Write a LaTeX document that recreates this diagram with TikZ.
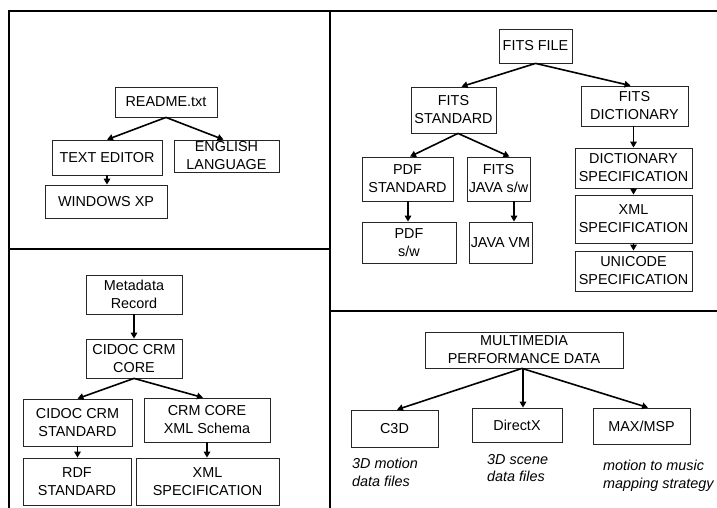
\documentclass[tikz,border=0pt]{standalone}
\usepackage{fontspec}
\setmainfont{Liberation Sans}
\usetikzlibrary{arrows.meta}
\begin{document}
\begin{tikzpicture}[x=1bp,y=-1bp,
  box/.style={draw=black!85, line width=0.8bp, inner sep=0pt, align=center,
    font=\fontsize{14.4bp}{18bp}\selectfont},
  arr/.style={line width=1.6bp, -{Triangle[length=6bp,width=6.5bp]}},
  panel/.style={line width=2.6bp},
  captext/.style={inner sep=0pt, align=left, anchor=north west,
    font=\fontsize{14.4bp}{17.5bp}\selectfont\itshape}]
\useasboundingbox (0,0) rectangle (717,508);
% panels
\draw[panel] (9,508) -- (9,11) -- (717,11);
\draw[panel] (330,11) -- (330,508);
\draw[panel] (9,249) -- (330,249);
\draw[panel] (330,311) -- (717,311);

% top-left
\node[box, minimum width=102bp, minimum height=30bp] (readme) at (166,102) {README.txt};
\node[box, minimum width=110bp, minimum height=35bp] (te) at (107,157.5) {TEXT EDITOR};
\node[box, minimum width=105bp, minimum height=32bp] (eng) at (226.5,156) {ENGLISH\\LANGUAGE};
\node[box, minimum width=122bp, minimum height=33bp] (winxp) at (106,201.5) {WINDOWS XP};
\draw[arr] (readme.south) -- (te.north);
\draw[arr] (readme.south) -- ([xshift=-3bp]eng.north);
\draw[arr] (te.south) -- (te.south |- winxp.north);

% top-right
\node[box, minimum width=73bp, minimum height=34bp] (fitsfile) at (535.5,46) {FITS FILE};
\node[box, minimum width=85bp, minimum height=46bp] (fitsstd) at (453.5,110) {FITS\\STANDARD};
\node[box, minimum width=107bp, minimum height=40bp] (fitsdict) at (634.5,106) {FITS\\DICTIONARY};
\node[box, minimum width=91bp, minimum height=44bp] (pdfstd) at (407.5,179) {PDF\\STANDARD};
\node[box, minimum width=63bp, minimum height=44bp] (fitsjava) at (498.5,179) {FITS\\JAVA s/w};
\node[box, minimum width=94bp, minimum height=41bp] (pdfsw) at (409,242.5) {PDF\\s/w};
\node[box, minimum width=63bp, minimum height=41bp] (javavm) at (500.5,242.5) {JAVA VM};
\node[box, minimum width=117bp, minimum height=40bp] (dictspec) at (633.5,168) {DICTIONARY\\SPECIFICATION};
\node[box, minimum width=117bp, minimum height=48bp] (xmlspec) at (633.5,219) {XML\\SPECIFICATION};
\node[box, minimum width=117bp, minimum height=40bp] (unispec) at (633.5,271) {UNICODE\\SPECIFICATION};
\draw[arr] (fitsfile.south) -- ([xshift=8bp]fitsstd.north);
\draw[arr] (fitsfile.south) -- ([xshift=-4bp]fitsdict.north);
\draw[arr] ([xshift=4.5bp]fitsstd.south) -- ([xshift=2.5bp]pdfstd.north);
\draw[arr] ([xshift=4.5bp]fitsstd.south) -- ([xshift=11bp]fitsjava.north);
\draw[arr] ([xshift=0.5bp]pdfstd.south) -- ([xshift=0.5bp]pdfstd.south |- pdfsw.north);
\draw[arr] ([xshift=15.5bp]fitsjava.south) -- ([xshift=15.5bp]fitsjava.south |- javavm.north);
\draw[arr] (fitsdict.south -| dictspec.north) -- (dictspec.north);
\draw[arr] (dictspec.south) -- (xmlspec.north);
\draw[arr] (xmlspec.south) -- (unispec.north);

% bottom-left
\node[box, minimum width=96bp, minimum height=39bp] (meta) at (134,294.5) {Metadata\\Record};
\node[box, minimum width=96bp, minimum height=39bp] (cidoccore) at (134,358.5) {CIDOC CRM\\CORE};
\node[box, minimum width=109bp, minimum height=47bp] (cidocstd) at (77.5,422.5) {CIDOC CRM\\STANDARD};
\node[box, minimum width=126bp, minimum height=44bp] (crmxml) at (207,420) {CRM CORE\\XML Schema};
\node[box, minimum width=108bp, minimum height=47bp] (rdf) at (77,481.5) {RDF\\STANDARD};
\node[box, minimum width=143bp, minimum height=47bp] (xmlspecb) at (207.5,481.5) {XML\\SPECIFICATION};
\draw[arr] (meta.south) -- (cidoccore.north);
\draw[arr] (cidoccore.south) -- (cidocstd.north);
\draw[arr] (cidoccore.south) -- ([xshift=-4bp]crmxml.north);
\draw[arr] (cidocstd.south) -- (cidocstd.south |- rdf.north);
\draw[arr] (crmxml.south) -- (crmxml.south |- xmlspecb.north);

% bottom-right
\node[box, minimum width=198bp, minimum height=36bp] (mm) at (524,350) {MULTIMEDIA\\PERFORMANCE DATA};
\node[box, minimum width=87bp, minimum height=37bp] (c3d) at (394.5,428.5) {C3D};
\node[box, minimum width=90bp, minimum height=34bp] (dx) at (517,425) {DirectX};
\node[box, minimum width=97bp, minimum height=36bp] (maxmsp) at (641.5,426) {MAX/MSP};
\draw[arr] ([xshift=-2bp]mm.south) -- ([xshift=2.5bp]c3d.north);
\draw[arr] ([xshift=-1bp]mm.south) -- ([xshift=-1bp]mm.south |- dx.north);
\draw[arr] ([xshift=-2bp]mm.south) -- ([xshift=6.5bp]maxmsp.north);
\node[captext] (capc3d) at (352,458) {3D motion\\data files};
\node[captext] (capdx) at (487,454) {3D scene\\data files};
\node[captext] (capmax) at (603,460) {motion to music\\mapping strategy};
\end{tikzpicture}
\end{document}
